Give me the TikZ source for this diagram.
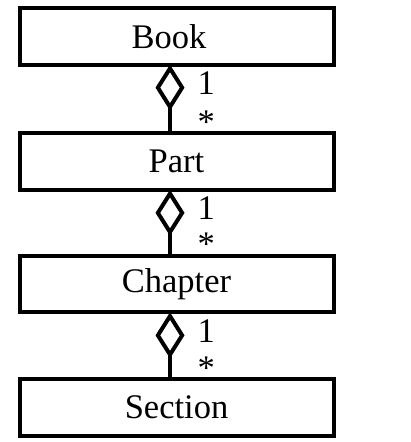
\documentclass[tikz,border=0pt]{standalone}
\usepackage{fontspec}
\setmainfont{Liberation Serif}
\usetikzlibrary{arrows.meta}
\begin{document}
\begin{tikzpicture}[x=1pt,y=-1pt,line join=miter,
	cls/.style={draw,rectangle,line width=4pt,minimum width=314pt,minimum height=56.7pt,inner sep=0pt,outer sep=0pt,font=\fontsize{34.5}{40}\selectfont},
	mult/.style={inner sep=0pt,anchor=base west,font=\fontsize{34.5}{40}\selectfont},
	agg/.style={line width=4pt,{Diamond[open,length=46pt,width=29pt]}-}]
	\useasboundingbox (0,0) rectangle (411,442);
	\node[cls] (book) at (176.5,36.3) {Book\kern15pt};
	\node[cls] (part) at (176.5,161.5) {Part};
	\node[cls] (chapter) at (176.5,284) {Chapter};
	\node[cls] (section) at (176.5,407.5) {Section};
	\foreach \a/\b in {book/part,part/chapter,chapter/section}{
		\draw[agg] ([xshift=-6.5pt]\a.south) -- ([xshift=-6.5pt]\b.north);
		\node[mult] (one-\a) at ([xshift=21pt,yshift=-30pt]\a.south) {1};
		\node[mult] (many-\b) at ([xshift=21pt]\b.north) {*};
	}
\end{tikzpicture}
\end{document}
